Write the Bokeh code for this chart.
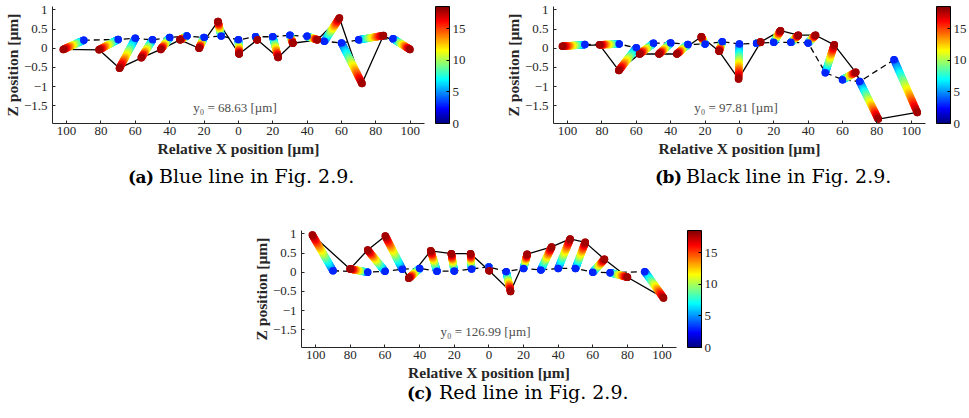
import numpy as np
from bokeh.plotting import figure
from bokeh.models import (ColorBar, LinearColorMapper, FixedTicker, Label,
                          ColumnDataSource, Range1d, Div)
from bokeh.layouts import column, row
from bokeh.embed import file_html
from bokeh.resources import INLINE

# ---------------- data ----------------
# (a) Blue line, y0 = 68.63 um
a_start_x = [-90, -70, -60, -50, -40, -30, -20, -10, 0, 10, 20, 30, 40, 50, 60, 70, 90]
a_start_z = [0.21, 0.23, 0.26, 0.22, 0.28, 0.32, 0.28, 0.32, 0.22, 0.30, 0.30, 0.34, 0.31, 0.18, 0.14, 0.22, 0.25]
a_end_x = [-101.9, -81.1, -69.2, -56.5, -45.2, -34.0, -22.9, -11.9, 0.4, 11.0, 23.1, 31.7, 46.0, 58.8, 71.9, 84.4, 99.8]
a_end_z = [-0.03, -0.04, -0.52, -0.25, -0.03, 0.22, 0.0, 0.70, -0.15, 0.22, -0.24, 0.13, 0.22, 0.79, -0.92, 0.33, -0.03]

# (b) Black line, y0 = 97.81 um
b_start_x = [-90, -70, -60, -50, -40, -30, -20, -10, 0, 10, 20, 30, 40, 50, 60, 70, 90]
b_start_z = [0.095, 0.11, 0.01, 0.13, 0.14, 0.10, 0.11, 0.17, 0.11, 0.13, 0.155, 0.155, 0.14, -0.64, -0.82, -0.87, -0.30]
b_end_x = [-103.0, -81.4, -70.2, -58.1, -46.8, -36.4, -22.2, -11.8, -0.5, 12.4, 23.9, 34.3, 44.3, 55.2, 67.7, 80.8, 103.5]
b_end_z = [0.05, 0.09, -0.58, -0.15, -0.15, -0.15, 0.30, -0.08, -0.80, 0.16, 0.46, 0.34, 0.34, 0.09, -0.63, -1.85, -1.675]

# (c) Red line, y0 = 126.99 um
c_start_x = [-90, -70, -60, -50, -40, -30, -20, -10, 0, 10, 20, 30, 40, 50, 60, 70, 90]
c_start_z = [0.04, 0.0, 0.025, 0.08, 0.10, 0.025, 0.03, 0.085, 0.14, 0.016, 0.10, 0.06, 0.10, 0.10, 0.0, -0.01, 0.016]
c_end_x = [-101.9, -80.2, -70.0, -59.8, -46.3, -33.6, -21.7, -10.6, 0.2, 12.5, 22.1, 36.2, 46.9, 55.6, 66.7, 80.0, 100.8]
c_end_z = [0.97, 0.086, 0.58, 0.945, -0.16, 0.56, 0.485, 0.485, 0.04, -0.50, 0.47, 0.66, 0.87, 0.78, 0.34, -0.13, -0.67]

y0_values = ["68.63", "97.81", "126.99"]
caption_letters = ["(a)", "(b)", "(c)"]
caption_texts = ["Blue line in Fig. 2.9.", "Black line in Fig. 2.9.", "Red line in Fig. 2.9."]

x_ticks = [-100, -80, -60, -40, -20, 0, 20, 40, 60, 80, 100]
x_tick_labels = ["100", "80", "60", "40", "20", "0", "20", "40", "60", "80", "100"]
y_ticks = [-1.5, -1, -0.5, 0, 0.5, 1]
y_tick_labels = ["\u22121.5", "\u22121", "\u22120.5", "0", "0.5", "1"]
cb_ticks = [0, 5, 10, 15]

time_low, time_high = 0.0, 18.5      # colour bar range
t_first, t_last = 3.0, 17.8          # time of first (blue) and last (red) sample
n_samples = 40                        # samples drawn along each trajectory

# ---------------- styling ----------------
AX = "#262626"
SERIF = "Liberation Serif"


def jet_palette(n=256):
    out = []
    for i in range(n):
        v = i / (n - 1)
        r = min(max(1.5 - abs(4 * v - 3), 0), 1)
        g = min(max(1.5 - abs(4 * v - 2), 0), 1)
        b = min(max(1.5 - abs(4 * v - 1), 0), 1)
        out.append("#%02x%02x%02x" % (int(r * 255), int(g * 255), int(b * 255)))
    return out


JET = jet_palette()
FW, FH = 375, 117


def make_panel(sx, sz, ex, ez, y0, width, height, mb):
    mapper = LinearColorMapper(palette=JET, low=time_low, high=time_high)
    p = figure(width=width, height=height, output_backend="svg", toolbar_location=None,
               x_range=Range1d(-108.2, 108.3), y_range=Range1d(-1.965, 1.09),
               min_border_left=mb[0], min_border_right=mb[1],
               min_border_top=mb[2], min_border_bottom=mb[3])
    p.outline_line_color = None
    p.grid.visible = False
    p.background_fill_color = "white"
    p.border_fill_color = "white"

    # trajectories sampled in time
    tx, tz, tt = [], [], []
    for xs_, zs_, xe_, ze_ in zip(sx, sz, ex, ez):
        for k in range(n_samples):
            f = k / (n_samples - 1)
            tx.append(xs_ + f * (xe_ - xs_))
            tz.append(zs_ + f * (ze_ - zs_))
            tt.append(t_first + f * (t_last - t_first))

    p.line(sx, sz, line_color="black", line_width=1.3, line_dash="6 4")
    p.line(ex, ez, line_color="black", line_width=1.3)

    tr = ColumnDataSource(dict(x=tx, z=tz, t=tt))
    p.scatter("x", "z", source=tr, size=7.5, line_color=None,
              fill_color={"field": "t", "transform": mapper})
    st = ColumnDataSource(dict(x=sx, z=sz, t=[t_first] * len(sx)))
    p.scatter("x", "z", source=st, size=7.5, line_color=None,
              fill_color={"field": "t", "transform": mapper})
    en = ColumnDataSource(dict(x=ex, z=ez, t=[t_last] * len(ex)))
    p.scatter("x", "z", source=en, size=7.5, line_color=None,
              fill_color={"field": "t", "transform": mapper})

    # axes
    xa = p.xaxis[0]
    xa.ticker = FixedTicker(ticks=x_ticks)
    xa.major_label_overrides = {float(k): v for k, v in zip(x_ticks, x_tick_labels)}
    ya = p.yaxis[0]
    ya.ticker = FixedTicker(ticks=y_ticks)
    ya.major_label_overrides = {float(k): v for k, v in zip(y_ticks, y_tick_labels)}
    for ax in (xa, ya):
        ax.major_tick_in = 3
        ax.major_tick_out = 0
        ax.minor_tick_line_color = None
        ax.axis_line_color = AX
        ax.major_tick_line_color = AX
        ax.major_label_text_font = SERIF
        ax.major_label_text_font_size = "13px"
        ax.major_label_text_color = AX
        ax.axis_label_text_font = SERIF
        ax.axis_label_text_font_style = "bold"
        ax.axis_label_text_font_size = "15.5px"
        ax.axis_label_text_color = AX
    xa.axis_label = "Relative X position [\u00b5m]"
    ya.axis_label = "Z position [\u00b5m]"
    xa.major_label_standoff = 3
    xa.axis_label_standoff = 2
    ya.major_label_standoff = 5
    ya.axis_label_standoff = 0

    # y0 annotation
    p.add_layout(Label(x=-2, y=-1.56, text="y\u2080 = %s [\u00b5m]" % y0, text_align="center",
                       text_baseline="middle", text_font=SERIF, text_font_size="13px",
                       text_color="#4d4d4d"))

    # colour bar
    cb = ColorBar(color_mapper=mapper, ticker=FixedTicker(ticks=cb_ticks), width=14,
                  height=FH, location=(11, 0), margin=0, padding=0,
                  bar_line_color="black", bar_line_width=1,
                  major_tick_in=3, major_tick_out=0, major_tick_line_color="black",
                  major_label_text_font=SERIF, major_label_text_font_size="13px",
                  major_label_text_color=AX, label_standoff=3,
                  border_line_color=None, background_fill_color=None)
    p.add_layout(cb, "right")
    return p


def caption(letter, text, left, gap, height, line_h):
    html = ('<div style="font-family:\'DejaVu Serif\';font-size:19px;line-height:%dpx;'
            'white-space:nowrap;color:#000">'
            '<span style="display:inline-block;width:%dpx;font-weight:bold;'
            'font-size:17px;letter-spacing:-0.5px">%s</span>'
            '<span>%s</span></div>') % (line_h, gap, letter, text)
    return Div(text=html, width=330, height=height, margin=(0, 0, 0, left))


pa = make_panel(a_start_x, a_start_z, a_end_x, a_end_z, y0_values[0], 480, 165,
                (49, 56, 6, 165 - 6 - FH))
pb = make_panel(b_start_x, b_start_z, b_end_x, b_end_z, y0_values[1], 489, 165,
                (73, 41, 6, 165 - 6 - FH))
pc = make_panel(c_start_x, c_start_z, c_end_x, c_end_z, y0_values[2], 969, 174,
                (301, 293, 20, 174 - 20 - FH))

ca = caption(caption_letters[0], caption_texts[0], 128, 31, 45, 22)
cbp = caption(caption_letters[1], caption_texts[1], 175, 31, 45, 22)
cc = caption(caption_letters[2], caption_texts[2], 407, 32, 30, 17)

layout = column(row(column(pa, ca), column(pb, cbp)), column(pc, cc))
open("out.html", "w").write(file_html(layout, INLINE))
